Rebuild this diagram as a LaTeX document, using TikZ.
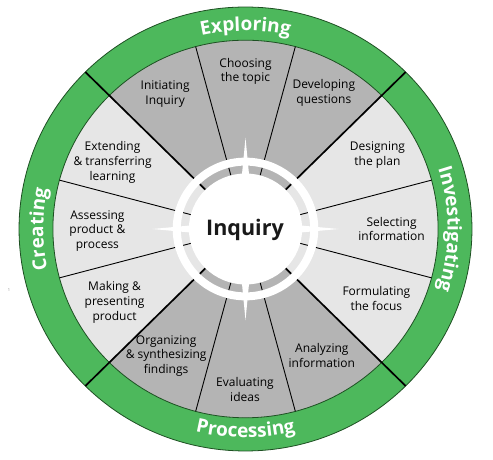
\documentclass[tikz,border=0pt]{standalone}
\usepackage{fontspec}
\setmainfont{Open Sans}
\usetikzlibrary{decorations.text}
\definecolor{ringgreen}{RGB}{77,184,92}
\definecolor{ringedge}{RGB}{30,80,35}
\definecolor{segdark}{RGB}{180,180,180}
\definecolor{seglight}{RGB}{230,230,230}
\tikzset{
  seglabel/.style={align=center, text=black, font=\fontsize{12}{14.8}\selectfont, inner sep=0pt},
  thinline/.style={draw=black, line width=0.9pt},
  thickline/.style={draw=black, line width=1.7pt},
  ringedge/.style={draw=ringedge, line width=0.8pt},
  spike/.style={fill=white},
}
\begin{document}
\begin{tikzpicture}[x=1pt, y=1pt]
\useasboundingbox (0,0) rectangle (493,460);
\fill[white] (0,0) rectangle (493,460);
\node[text=gray, font=\fontsize{4}{4}\selectfont, inner sep=0pt] (mark) at (9,170) {1};
\begin{scope}[shift={(245.5,231)}, xscale=1.011, yscale=0.991]
  % segments
  \foreach \a/\c in {15/seglight,45/segdark,75/segdark,105/segdark,135/seglight,165/seglight,195/seglight,225/segdark,255/segdark,285/segdark,315/seglight,345/seglight}{
    \fill[\c] (0,0) -- (\a:190.5) arc[start angle=\a, delta angle=30, radius=190.5] -- cycle;
  }
  % green ring
  \fill[ringgreen, even odd rule] (0,0) circle[radius=224] (0,0) circle[radius=190.5];
  \draw[ringedge] (0,0) circle[radius=224];
  \draw[ringedge] (0,0) circle[radius=190.5];
  % dividing lines
  \foreach \a in {15,75,105,165,195,255,285,345}{
    \draw[thinline] (\a:56) -- (\a:190.5);
  }
  \foreach \a in {45,135,225,315}{
    \draw[thickline] (\a:56) -- (\a:224);
  }
  % centre hub
  \fill[white, even odd rule] (0,0) circle[radius=72] (0,0) circle[radius=64] (0,0) circle[radius=56];
  \foreach \a in {0,90,180,270}{
    \fill[spike] (\a:92) -- (\a+5:48) -- (\a-5:48) -- cycle;
  }
  \node[font=\fontsize{21.5}{21.5}\selectfont\bfseries, text=black!90, inner sep=0pt] (hub) at (-0.5,-1) {Inquiry};
  % ring labels
  \path[decorate, decoration={text along path, text align=center,
      text={|\fontsize{19}{19}\selectfont\bfseries\color{white}|Exploring}}]
    (135:200) arc[start angle=135, end angle=45, radius=200];
  \path[decorate, decoration={text along path, text align=center,
      text={|\fontsize{19}{19}\selectfont\bfseries\color{white}|Investigating}}]
    (45:200) arc[start angle=45, end angle=-45, radius=200];
  \path[decorate, decoration={text along path, text align=center,
      text={|\fontsize{19}{19}\selectfont\bfseries\color{white}|Creating}}]
    (225:200) arc[start angle=225, end angle=135, radius=200];
  \path[decorate, decoration={text along path, text align=center,
      text={|\fontsize{19}{19}\selectfont\bfseries\color{white}|Processing}}]
    (225:210.5) arc[start angle=225, end angle=315, radius=210.5];
  % segment labels
  \node[seglabel] (choosing) at (0,159) {Choosing\\the topic};
  \node[seglabel] (initiating) at (-79.5,136) {Initiating\\Inquiry};
  \node[seglabel] (developing) at (77.5,137) {Developing\\questions};
  \node[seglabel] (designing) at (130.5,75) {Designing\\the plan};
  \node[seglabel] (selecting) at (144.5,0) {Selecting\\information};
  \node[seglabel] (formulating) at (129.5,-70) {Formulating\\the focus};
  \node[seglabel] (analyzing) at (75.5,-128) {Analyzing\\information};
  \node[seglabel] (evaluating) at (-0.5,-162) {Evaluating\\ideas};
  \node[seglabel] (organizing) at (-78.5,-128) {Organizing\\\& synthesizing\\findings};
  \node[seglabel] (making) at (-129.5,-74) {Making \&\\presenting\\product};
  \node[seglabel] (assessing) at (-146.5,-2) {Assessing\\product \&\\process};
  \node[seglabel] (extending) at (-131.5,67) {Extending\\\& transferring\\learning};
\end{scope}
\end{tikzpicture}
\end{document}
